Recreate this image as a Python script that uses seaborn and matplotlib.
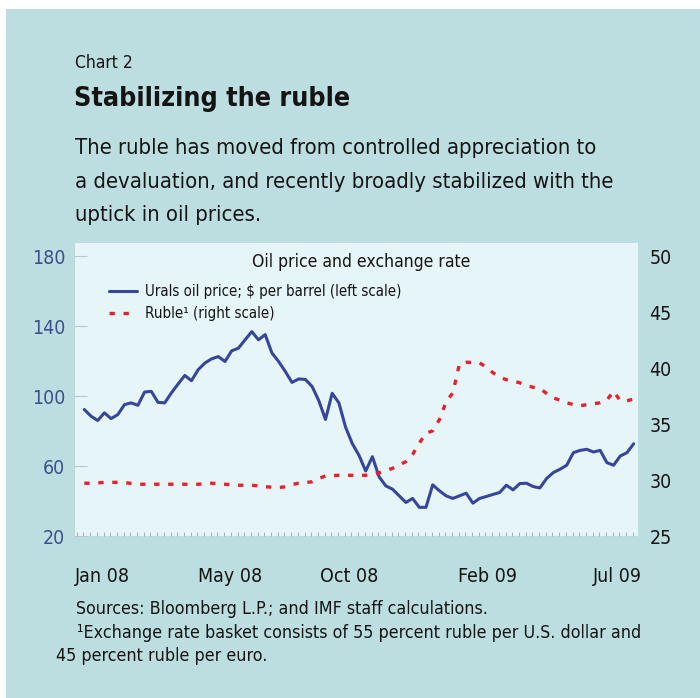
import numpy as np
import pandas as pd
import matplotlib
matplotlib.use("Agg")
import matplotlib.pyplot as plt
import seaborn as sns
from matplotlib import font_manager
from matplotlib.ticker import MultipleLocator, FixedLocator
from matplotlib.patches import Rectangle

urals = [92.4, 88.6, 86.1, 90.5, 87.2, 89.5, 95.2, 96.2, 94.8, 102.4,
         102.8, 96.5, 96.2, 101.9, 107.0, 111.9, 108.9, 115.2, 119.0, 121.4,
         122.7, 119.9, 126.0, 127.5, 132.3, 137.0, 132.3, 135.3, 124.8, 119.9,
         114.2, 107.9, 109.9, 109.6, 105.6, 97.5, 86.7, 101.7, 96.2, 82.3,
         72.9, 66.2, 57.2, 65.4, 53.9, 48.7, 46.8, 43.0, 39.2, 41.5,
         36.4, 36.4, 49.3, 45.9, 43.0, 41.5, 43.0, 44.5, 38.8, 41.5,
         42.6, 43.8, 44.9, 49.1, 46.4, 50.0, 50.2, 48.3, 47.5, 52.9,
         56.3, 58.2, 60.5, 67.7, 69.0, 69.6, 68.1, 69.0, 62.0, 60.5,
         65.8, 67.7, 72.8]

ruble = [29.72, 29.72, 29.75, 29.80, 29.80, 29.80, 29.78, 29.70, 29.63, 29.63,
         29.63, 29.63, 29.63, 29.63, 29.63, 29.63, 29.63, 29.63, 29.68, 29.72,
         29.68, 29.63, 29.58, 29.54, 29.54, 29.54, 29.48, 29.40, 29.37, 29.33,
         29.40, 29.60, 29.73, 29.78, 29.85, 30.15, 30.37, 30.40, 30.43, 30.43,
         30.43, 30.43, 30.43, 30.50, 30.65, 30.85, 31.05, 31.35, 31.65, 32.3,
         33.3, 34.2, 34.4, 35.4, 37.0, 37.8, 40.4, 40.54, 40.52, 40.48,
         40.1, 39.6, 39.2, 38.98, 38.86, 38.7, 38.45, 38.3, 38.2, 37.75,
         37.35, 37.15, 36.92, 36.75, 36.65, 36.75, 36.82, 36.92, 37.15, 37.95,
         37.1, 37.1, 37.25]

month_labels = ["Jan 08", "May 08", "Oct 08", "Feb 09", "Jul 09"]
month_pos = [2.65, 21.75, 39.6, 60.2, 79.5]
left_ticks = [20, 60, 100, 140, 180]
right_ticks = [25, 30, 35, 40, 45, 50]

subtitle = ["The ruble has moved from controlled appreciation to",
            "a devaluation, and recently broadly stabilized with the",
            "uptick in oil prices."]
notes = ["Sources: Bloomberg L.P.; and IMF staff calculations.",
         "\u00b9Exchange rate basket consists of 55 percent ruble per U.S. dollar and",
         "45 percent ruble per euro."]

BG = "#bcdee1"
PANEL = "#e6f5f7"
BLUE = "#37459a"
RED = "#e8202e"
INK = "#141414"

# pick a narrow face if one is installed, else plain Liberation Sans
files = [f.fname.lower() for f in font_manager.fontManager.ttflist]
stretch = "normal"
if any("liberationsansnarrow" in f for f in files):
    family = "Liberation Sans Narrow"
elif any("dejavusanscondensed" in f for f in files):
    family, stretch = "DejaVu Sans", "condensed"
else:
    family = "Liberation Sans"

sns.set_theme(style="white")
plt.rcParams["font.family"] = [family, "DejaVu Sans"]
plt.rcParams["font.stretch"] = stretch

df = pd.DataFrame({"week": np.arange(len(urals)), "urals": urals, "ruble": ruble})

W, H = 700, 698
fig = plt.figure(figsize=(W / 100, H / 100), dpi=100)
fig.patch.set_facecolor("white")
fig.patches.append(Rectangle((6 / W, 0), 1, 1 - 9 / H, transform=fig.transFigure,
                             facecolor=BG, edgecolor="none", zorder=-10))
renderer = fig.canvas.get_renderer()


def fx(px):
    return px / W


def fy(py):
    return 1 - py / H


def fit(t, width_px):
    # scale font so the text spans the width seen in the reference
    w = t.get_window_extent(renderer).width
    t.set_fontsize(t.get_fontsize() * width_px / w)
    return t.get_fontsize()


ax = fig.add_axes([fx(73.5), fy(536), (638.3 - 73.5) / W, (536 - 242.5) / H])
ax.set_facecolor(PANEL)
ax2 = ax.twinx()

sns.lineplot(data=df, x="week", y="urals", ax=ax, color=BLUE, linewidth=2.2,
             label="Urals oil price; $ per barrel (left scale)", legend=False)
sns.lineplot(data=df, x="week", y="ruble", ax=ax2, color=RED, linewidth=2.4,
             label="Ruble\u00b9 (right scale)", legend=False)
ax2.lines[0].set_dashes((1.6, 2.6))

ax.set_xlim(-1.61, 82.69)
ax.set_ylim(20, 188)
ax2.set_ylim(25, 25 + 168 / 6.4)

for a in (ax, ax2):
    a.set_xlabel("")
    a.set_ylabel("")
    for s in a.spines.values():
        s.set_visible(False)
ax.spines["left"].set_visible(True)
ax.spines["left"].set_color("#c5d3d8")
ax.spines["left"].set_linewidth(0.8)

# tick label size: "Jan 08" is about 55 px wide in the reference
probe = fig.text(0, 0, "Jan 08", fontsize=10)
tick_fs = fit(probe, 55)
probe.remove()

ax.yaxis.set_major_locator(FixedLocator(left_ticks))
ax.tick_params(axis="y", which="major", direction="in", length=9, width=0.8,
               color="#b9c6cb", labelsize=tick_fs, labelcolor="#3e4f8c", pad=6, left=True)
ax2.yaxis.set_major_locator(FixedLocator(right_ticks))
ax2.tick_params(axis="y", which="major", length=0, labelsize=tick_fs,
                labelcolor=INK, pad=8)

ax.xaxis.set_major_locator(FixedLocator(month_pos))
ax.set_xticklabels(month_labels)
ax.xaxis.set_minor_locator(MultipleLocator(1, offset=0.87))
ax.tick_params(axis="x", which="major", length=0, labelsize=tick_fs,
               labelcolor=INK, pad=22)
ax.tick_params(axis="x", which="minor", direction="in", length=3, width=0.7,
               color="#9fb0b6", bottom=True)

# legend text size from the width of its first entry (~258 px)
probe = fig.text(0, 0, "Urals oil price; $ per barrel (left scale)", fontsize=10)
leg_fs = fit(probe, 258)
probe.remove()
em = leg_fs * 100 / 72

handles = ax.get_lines()[:1] + ax2.get_lines()[:1]
leg = ax.legend(handles, [h.get_label() for h in handles], loc="upper left",
                bbox_to_anchor=(fx(109), fy(284)), bbox_transform=fig.transFigure,
                frameon=False, fontsize=leg_fs, handlelength=28 / em,
                handletextpad=8 / em, labelspacing=0.45, borderpad=0, borderaxespad=0)
for t in leg.get_texts():
    t.set_color(INK)

t = fig.text(fx(361.5), fy(262), "Oil price and exchange rate", ha="center", va="center",
             fontsize=10, color=INK)
fit(t, 220)

t = fig.text(fx(75), fy(63), "Chart 2", ha="left", va="center", fontsize=10, color=INK)
fit(t, 58)
t = fig.text(fx(74), fy(99), "Stabilizing the ruble", ha="left", va="center",
             fontsize=10, fontweight="bold", color=INK)
fit(t, 274)

sub = [fig.text(fx(75), fy(y), line, ha="left", va="center", fontsize=10, color=INK)
       for line, y in zip(subtitle, [148, 182, 215])]
sub_fs = fit(sub[1], 543)
for t in sub:
    t.set_fontsize(sub_fs)

nt = [fig.text(fx(x), fy(y), line, ha="left", va="center", fontsize=10, color=INK)
      for line, x, y in zip(notes, [76, 77, 56], [609, 633, 656])]
note_fs = fit(nt[1], 561)
for t in nt:
    t.set_fontsize(note_fs)

fig.savefig("out.png", dpi=100, facecolor=fig.get_facecolor())
